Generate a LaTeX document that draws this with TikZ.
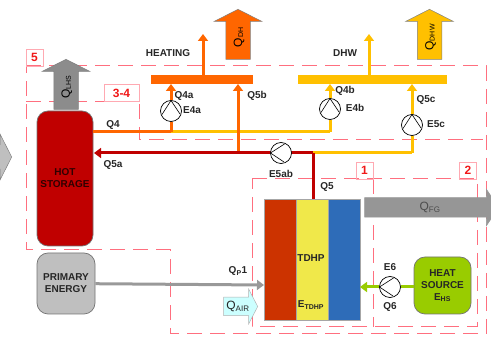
\documentclass[tikz,border=0pt]{standalone}
\usepackage{fontspec}
\setmainfont{Liberation Sans}
\usetikzlibrary{arrows.meta,shapes.arrows}
\definecolor{Dashc}{HTML}{FF6F7F}
\definecolor{Tagc}{HTML}{F01818}
\definecolor{Hotc}{HTML}{C00000}
\definecolor{Heatc}{HTML}{FF6600}
\definecolor{Dhwc}{HTML}{FFC000}
\definecolor{Greyc}{HTML}{BFBFBF}
\definecolor{Fgc}{HTML}{969696}
\definecolor{Srcc}{HTML}{99CC00}
\definecolor{Airc}{HTML}{CCFFFF}
\definecolor{Redc}{HTML}{CC3300}
\definecolor{Yelc}{HTML}{F0E84A}
\definecolor{Bluc}{HTML}{2E6CB8}
\definecolor{Txtc}{HTML}{262626}
\tikzset{
  zone/.style={draw=Dashc, line width=1pt, dash pattern=on 15pt off 8pt},
  tag/.style={draw=Dashc!60, line width=0.8pt, text=Tagc, font=\bfseries\fontsize{12}{12}\selectfont, inner sep=0pt, minimum height=17pt},
  lab/.style={font=\bfseries\fontsize{10}{10}\selectfont, text=Txtc, inner sep=0pt, align=center},
  qlab/.style={font=\fontsize{12}{12}\selectfont, text=Txtc, inner sep=0pt},
  tank/.style={draw=black!55, rounded corners=11pt, line width=0.7pt, inner sep=0pt, font=\bfseries\fontsize{10}{12}\selectfont, align=center},
  block/.style={draw=black!35, line width=0.5pt, inner sep=0pt, minimum height=121pt, minimum width=32pt},
  header/.style={inner sep=0pt, minimum height=8.5pt},
  pipe/.style={line width=3pt},
  flow/.style={-{Stealth[length=7pt,width=10pt,inset=0pt]}, line width=3pt},
  bigarrow/.style={single arrow, draw=black!50, line width=0.5pt, inner sep=0pt, anchor=tip,
    minimum width=47pt, minimum height=50pt, text height=12pt, text depth=12pt, single arrow head extend=11.5pt, single arrow tip angle=126,
    font=\fontsize{12}{12}\selectfont},
  pumpup/.style={circle, draw=black, fill=white, line width=0.7pt, inner sep=0pt, minimum size=21pt,
    path picture={\draw[line width=0.6pt] (path picture bounding box.south west)+(1.5pt,7pt) -- (path picture bounding box.north) -- ++(9pt,-13.5pt);}},
  pumpleft/.style={circle, draw=black, fill=white, line width=0.7pt, inner sep=0pt, minimum size=21pt,
    path picture={\draw[line width=0.6pt] (path picture bounding box.north east)+(-7pt,-1.5pt) -- (path picture bounding box.west) -- ++(13.5pt,-9pt);}},
}
\newcommand{\Qs}[2]{#1\textsubscript{#2}}
\newcommand{\Qb}[2]{\raisebox{-4pt}{#1{\fontsize{7}{7}\selectfont\raisebox{-1pt}{#2}}}}
\begin{document}
\begin{tikzpicture}[x=1pt,y=-1pt]
  \clip (0,0) rectangle (491,339);
  % zones
  \draw[zone] (26,66) -- (486,66) -- (486,334) -- (170,334) -- (170,250) -- (26,250) -- cycle;
  \draw[zone] (26,102) -- (139,102) -- (139,140) -- (483,140);
  \draw[zone] (252,179) -- (477,179) -- (477,327) -- (252,327) -- cycle;
  \draw[zone] (373,179) -- (373,327);
  \node[tag, minimum width=17pt] (tag5) at (34.5,57.5) {5};
  \node[tag, minimum width=35pt] (tag34) at (121.5,93) {3-4};
  \node[tag, minimum width=17pt] (tag1) at (364.5,170.5) {1};
  \node[tag, minimum width=17pt] (tag2) at (468,170.5) {2};
  % big arrows
  \node[bigarrow, fill=Greyc, minimum width=45pt, single arrow head extend=10.5pt] (inleft) at (12,157) {};
  \node[bigarrow, fill=black!45, rotate=90] (qlhs) at (66,59) {\Qb{Q}{LHS}};
  \node[bigarrow, fill=Heatc, rotate=90] (qdh) at (238,9) {\Qb{Q}{DH}};
  \node[bigarrow, fill=Dhwc, rotate=90] (qdhw) at (429.5,9) {\Qb{Q}{DHW}};
  % main blocks
  \node[tank, fill=Hotc, text=black!75!Hotc, minimum width=56pt, minimum height=135pt] (storage) at (65,178.5) {HOT\\STORAGE};
  \node[tank, fill=Greyc, text=Txtc, minimum width=58pt, minimum height=61pt] (primary) at (66,283.5) {PRIMARY\\ENERGY};
  \node[tank, fill=Srcc, text=Txtc, minimum width=57pt, minimum height=57pt] (source) at (442.5,285.5) {HEAT\\SOURCE\\\Qs{E}{HS}};
  \node[block, fill=Redc] (cond) at (280,259.5) {};
  \node[block, fill=Yelc] (tdhp) at (312,259.5) {};
  \node[block, fill=Bluc] (evap) at (344,259.5) {};
  \node[lab] (tdhptxt) at (311,258) {TDHP};
  \node[lab] (etdhp) at (311,305) {\Qs{E}{TDHP}};
  \node[header, fill=Heatc, minimum width=102pt] (hheat) at (202,79.5) {};
  \node[header, fill=Dhwc, minimum width=149pt] (hdhw) at (372.5,79.5) {};
  % junctions
  \coordinate (h4a) at (171,84);
  \coordinate (h5b) at (238,84);
  \coordinate (h4b) at (330,84);
  \coordinate (h5c) at (412,84);
  \coordinate (j4a) at (171,132);
  \coordinate (j4b) at (330,132);
  \coordinate (s4) at (93,132);
  \coordinate (s5) at (94,153);
  \coordinate (j5b) at (238,153);
  \coordinate (j5) at (313,153);
  \coordinate (j5c) at (412,153);
  \coordinate (up1) at (203,34);
  \coordinate (up2) at (369,34);
  \coordinate (hh1) at (203,75);
  \coordinate (hh2) at (369,75);
  \coordinate (tj5) at (313,199);
  \coordinate (tp1) at (264,285);
  \coordinate (te6) at (360,287);
  \coordinate (sq6) at (414,287);
  % pipes
  \draw[pipe, Dhwc] (j4a) -- (j4b);
  \draw[pipe, Heatc] (s4) -- (j4a);
  \draw[flow, Heatc] (hh1) -- (up1);
  \draw[flow, Dhwc] (hh2) -- (up2);
  \draw[flow, Heatc] (j5b) -- (h5b);
  \draw[pipe, Dhwc] (j5) -- (j5c);
  \draw[flow, Hotc] (j5) -- (s5);
  \draw[pipe, Hotc] (j5) -- (tj5);
  \draw[line width=3pt, black!40, -{Stealth[length=7pt,width=10pt,inset=0pt]}] (primary) -- (tp1);
  % pumps
  \node[pumpup] (e4a) at (171,111) {};
  \node[pumpup] (e4b) at (330,109) {};
  \node[pumpup] (e5c) at (412,125) {};
  \node[pumpleft] (e5ab) at (281,153) {};
  \node[pumpleft] (e6) at (390,287) {};
  \draw[pipe, Heatc] (j4a) -- (e4a);
  \draw[flow, Heatc] (e4a) -- (h4a);
  \draw[pipe, Dhwc] (j4b) -- (e4b);
  \draw[flow, Dhwc] (e4b) -- (h4b);
  \draw[pipe, Dhwc] (j5c) -- (e5c);
  \draw[flow, Dhwc] (e5c) -- (h5c);
  \draw[pipe, Srcc] (sq6) -- (e6);
  \draw[flow, Srcc] (e6) -- (te6);
  % air and flue gas
  \node[bigarrow, fill=Airc, draw=black!30, minimum width=34pt, minimum height=34pt, text height=9pt, text depth=9pt, single arrow head extend=8pt, single arrow tip angle=125] (qair) at (258,306.5) {};
  \node[qlab] (qairtxt) at (238,306.5) {\Qs{Q}{AIR}};
  \node[bigarrow, fill=Fgc, draw=Fgc, minimum width=36pt, minimum height=134pt, text height=9.5pt, text depth=9.5pt, single arrow head extend=8.5pt, single arrow tip angle=112] (qfg) at (499,207.5) {};
  \node[qlab, text=black!70] (qfgtxt) at (430,207.5) {\Qs{Q}{FG}};
  % labels
  \node[lab] (lheat) at (168,53) {HEATING};
  \node[lab] (ldhw) at (345,53) {DHW};
  \node[lab] (q4a) at (184,96) {Q4a};
  \node[lab] (l4a) at (192,110) {E4a};
  \node[lab] (q4) at (113,125) {Q4};
  \node[lab] (q5a) at (113,165) {Q5a};
  \node[lab] (q5b) at (257,96) {Q5b};
  \node[lab] (q4b) at (345,91) {Q4b};
  \node[lab] (l4b) at (355,108) {E4b};
  \node[lab] (q5c) at (426,100) {Q5c};
  \node[lab] (l5c) at (436,124) {E5c};
  \node[lab] (l5ab) at (281,174) {E5ab};
  \node[lab] (q5) at (327,187) {Q5};
  \node[lab] (qp) at (238,271) {\Qs{Q}{P}1};
  \node[lab] (l6) at (390,267) {E6};
  \node[lab] (q6) at (390,307) {Q6};
\end{tikzpicture}
\end{document}
